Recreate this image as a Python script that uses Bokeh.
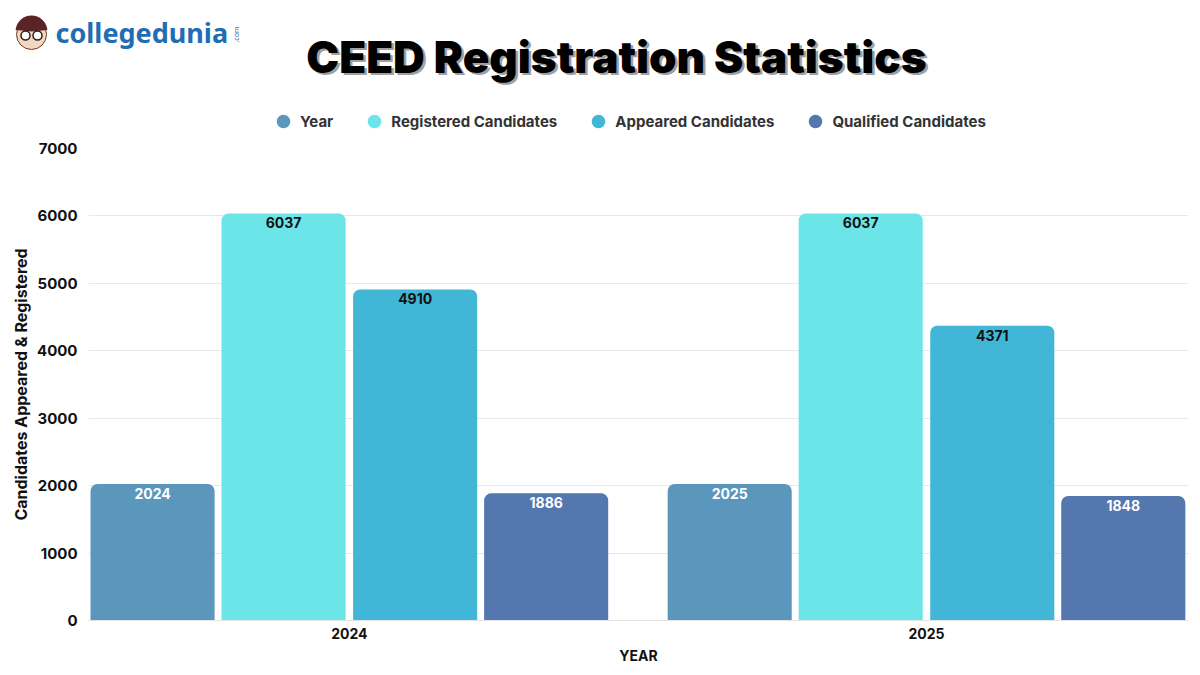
import math
from bokeh.plotting import figure
from bokeh.layouts import column, row
from bokeh.models import ColumnDataSource, Range1d, FixedTicker, Legend, LegendItem
from bokeh.transform import dodge
from bokeh.core.properties import value
from bokeh.embed import file_html
from bokeh.resources import INLINE

# ---- data ----
year_labels = ["2024", "2025"]
year_values = [2024, 2025]
registered = [6037, 6037]
appeared = [4910, 4371]
qualified = [1886, 1848]
series_names = ["Year", "Registered Candidates", "Appeared Candidates", "Qualified Candidates"]
series_colors = ["#5b97bd", "#6ce5e8", "#42b6d6", "#5577b0"]
label_colors = ["white", "#111111", "#111111", "white"]
y_ticks = [0, 1000, 2000, 3000, 4000, 5000, 6000, 7000]
title_text = "CEED Registration Statistics"
logo_text = "collegedunia"

FONT = "Inter"
W, H_HEAD, H_MAIN = 1200, 138, 537

# ---------------- header (logo, title, legend) ----------------
head = figure(width=W, height=H_HEAD, output_backend="svg", toolbar_location=None,
              x_range=Range1d(0, W), y_range=Range1d(H_HEAD, 0),
              min_border=0, x_axis_type=None, y_axis_type=None)
head.outline_line_color = None
head.xgrid.visible = False
head.ygrid.visible = False

# title with shadow
head.text(x=[618.5], y=[58.5], text=[title_text], text_align="center", text_baseline="middle",
          text_font=value("Inter Black, Inter"), text_font_style="bold",
          text_font_size="44px", text_color="#a0a0a0")
head.text(x=[616], y=[56], text=[title_text], text_align="center", text_baseline="middle",
          text_font=value("Inter Black, Inter"), text_font_style="bold",
          text_font_size="44px", text_color="#000000")

# logo
head.scatter(x=[31], y=[34], size=30, marker="circle", fill_color="#f4d6bd", line_color="#6b3b2a", line_width=1)
head.wedge(x=[31], y=[31], radius=16, start_angle=0.1, end_angle=math.pi - 0.1,
           direction="anticlock", fill_color="#5b2424", line_color=None)
head.scatter(x=[25, 37], y=[35, 35], size=9, marker="circle", fill_color="white", line_color="#222222", line_width=1.5)
head.text(x=[55], y=[32], text=[logo_text], text_align="left", text_baseline="middle",
          text_font=value("Noto Sans"), text_font_style="bold",
          text_font_size="27px", text_color="#1f6db3")
head.text(x=[236], y=[34], text=[".com"], text_align="center", text_baseline="middle",
          angle=math.pi / 2, text_font=value("Noto Sans"), text_font_size="7px",
          text_color="#1f6db3")

# legend (circles)
items = []
for name, c in zip(series_names, series_colors):
    r = head.scatter(x=[math.nan], y=[math.nan], marker="circle", size=14,
                     fill_color=c, line_color=None)
    items.append(LegendItem(label=name, renderers=[r]))
legend = Legend(items=items, orientation="horizontal", location=(266, 0),
                glyph_width=34, glyph_height=34, label_standoff=0, spacing=24,
                padding=0, margin=0, border_line_color=None, background_fill_alpha=0,
                label_text_font=FONT, label_text_font_style="bold",
                label_text_font_size="15px", label_text_color="#333333")
head.add_layout(legend, "center")

# ---------------- main chart ----------------
x_idx = list(range(len(year_labels)))
src = ColumnDataSource(dict(
    x=x_idx,
    year=year_values,
    registered=registered,
    appeared=appeared,
    qualified=qualified,
    year_t=[str(v) for v in year_values],
    registered_t=[str(v) for v in registered],
    appeared_t=[str(v) for v in appeared],
    qualified_t=[str(v) for v in qualified],
))
cols = ["year", "registered", "appeared", "qualified"]
offsets = [-0.341, -0.114, 0.114, 0.341]
bar_w = 0.215

p = figure(width=W, height=H_MAIN, output_backend="svg", toolbar_location=None,
           x_range=Range1d(-0.452, 1.454), y_range=Range1d(0, 7000))
p.min_border_left = 88
p.min_border_right = 12
p.min_border_top = 10
p.min_border_bottom = 55
p.outline_line_color = None

for col, off, c, lc in zip(cols, offsets, series_colors, label_colors):
    p.vbar(x=dodge("x", off, range=p.x_range), top=col, width=bar_w, source=src,
           fill_color=c, line_color=None, border_radius=[7, 7, 0, 0])
    p.text(x=dodge("x", off, range=p.x_range), y=col, text=col + "_t", source=src,
           text_align="center", text_baseline="top", y_offset=4,
           text_font=value(FONT), text_font_style="bold", text_font_size="14px",
           text_color=lc)

p.yaxis.ticker = FixedTicker(ticks=y_ticks)
p.xaxis.ticker = FixedTicker(ticks=x_idx)
p.xaxis.major_label_overrides = {i: t for i, t in zip(x_idx, year_labels)}
for ax in (p.xaxis, p.yaxis):
    ax.major_tick_line_color = None
    ax.minor_tick_line_color = None
    ax.major_tick_out = 0
    ax.major_tick_in = 0
    ax.minor_tick_out = 0
    ax.minor_tick_in = 0
    ax.major_label_text_font = FONT
    ax.major_label_text_font_style = "bold"
    ax.major_label_text_font_size = "15px"
    ax.major_label_text_color = "#111111"
    ax.axis_label_text_font = FONT
    ax.axis_label_text_font_style = "bold"
    ax.axis_label_text_font_size = "14px"
    ax.axis_label_text_color = "#111111"
p.xaxis.major_label_text_font_size = "14px"
p.yaxis.axis_label_text_font_size = "16px"
p.yaxis.axis_line_color = None
p.xaxis.axis_line_color = "#e3e3e3"
p.yaxis.axis_label = "Candidates Appeared & Registered"
p.xaxis.axis_label = "YEAR"
p.yaxis.major_label_standoff = 11
p.xaxis.major_label_standoff = 7
p.xaxis.axis_label_standoff = 5
p.yaxis.axis_label_standoff = 3
p.xgrid.grid_line_color = None
p.ygrid.grid_line_color = "#e8e8e8"

layout = column(row(head), p, spacing=0)
open("out.html", "w").write(file_html(layout, INLINE))
